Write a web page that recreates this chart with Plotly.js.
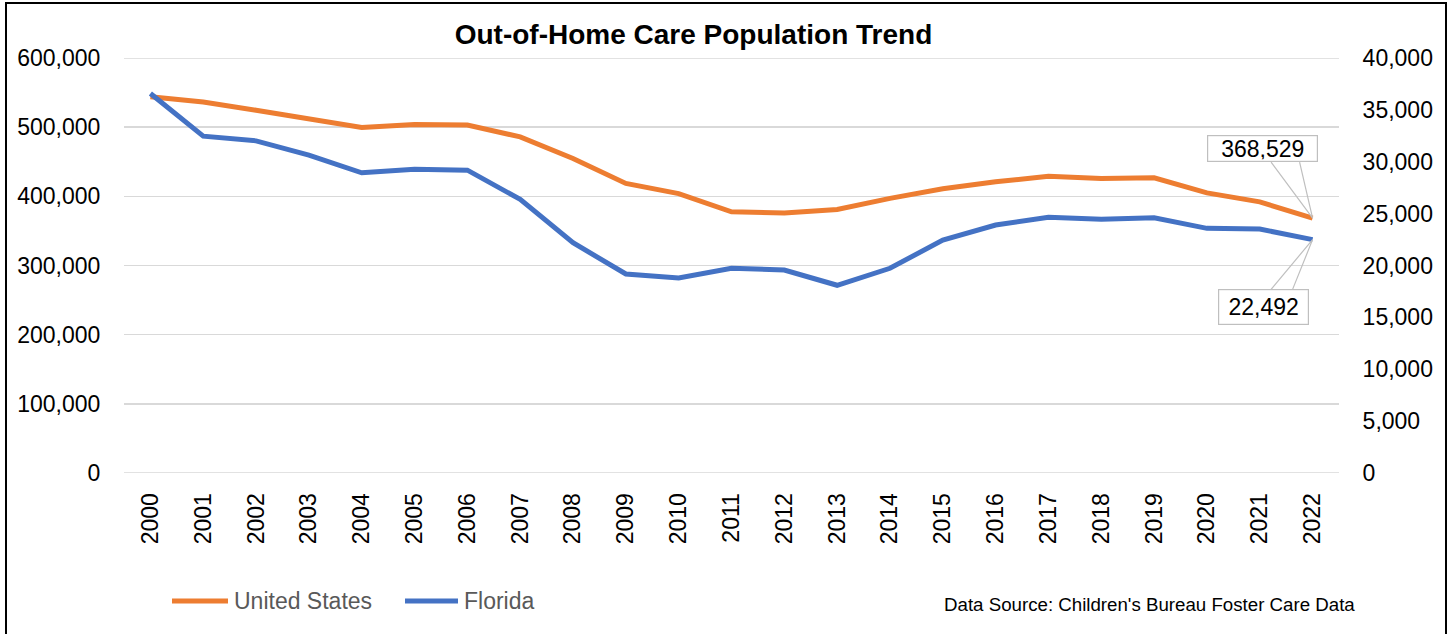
<!DOCTYPE html>
<html>
<head>
<meta charset="utf-8">
<script src="https://cdn.plot.ly/plotly-3.0.1.min.js"></script>
<style>
  html, body { margin: 0; padding: 0; background: #fff; }
  #chart { position: absolute; left: 0; top: 0; width: 1452px; height: 634px; }
  #frame { position: absolute; left: 5px; top: 2px; width: 1438px; height: 700px;
           border: 2px solid #000; pointer-events: none; }
</style>
</head>
<body>
<div id="chart"></div>
<div id="frame"></div>
<script>
// ---- Data ----
const years = ['2000','2001','2002','2003','2004','2005','2006','2007','2008','2009','2010',
               '2011','2012','2013','2014','2015','2016','2017','2018','2019','2020','2021','2022'];
const unitedStates = [544000, 536500, 524500, 512500, 499500, 504000, 503000, 486000, 454700, 418600,
                      404000, 377700, 376000, 381000, 397000, 411000, 421000, 429000, 425800, 426700,
                      405000, 392000, 368529];
const florida = [36574, 32463, 32012, 30635, 28932, 29288, 29192, 26372, 22194, 19182,
                 18797, 19730, 19567, 18094, 19730, 22455, 23899, 24640, 24447, 24601,
                 23581, 23513, 22492];
const seriesNames = ['United States', 'Florida'];
const leftTicks = [0, 100000, 200000, 300000, 400000, 500000, 600000];
const rightTicks = [0, 5000, 10000, 15000, 20000, 25000, 30000, 35000, 40000];
const chartTitle = 'Out-of-Home Care Population Trend';
const sourceNote = "Data Source: Children's Bureau Foster Care Data";

const FONT = '"Liberation Sans", Arial, Helvetica, sans-serif';
const ORANGE = '#ED7D31';
const BLUE = '#4472C4';
const colors = [ORANGE, BLUE];
const lastIdx = years.length - 1;
const fmt = v => v.toLocaleString('en-US');

const W = 1452, H = 634;
const M = { l: 124, r: 113, t: 58, b: 161 };
const PW = W - M.l - M.r, PH = H - M.t - M.b;
const px = x => (x - M.l) / PW;          // page px -> paper x
const py = y => 1 - (y - M.t) / PH;      // page px -> paper y

const traces = [
  { x: years, y: unitedStates, name: seriesNames[0], type: 'scatter', mode: 'lines',
    line: { color: ORANGE, width: 5 }, yaxis: 'y' },
  { x: years, y: florida, name: seriesNames[1], type: 'scatter', mode: 'lines',
    line: { color: BLUE, width: 5 }, yaxis: 'y2' }
];

// custom legend (line swatch + label), positioned like the original
const legendItems = [
  { x0: 172, x1: 228, tx: 232 },
  { x0: 405, x1: 458, tx: 462 }
];
const legendY = 601;
const legendShapes = legendItems.map((it, i) => ({
  type: 'line', xref: 'paper', yref: 'paper', x0: px(it.x0), x1: px(it.x1),
  y0: py(legendY), y1: py(legendY), line: { color: colors[i], width: 5 }
}));
const legendLabels = legendItems.map((it, i) => ({
  xref: 'paper', yref: 'paper', x: px(it.tx), y: py(legendY), xanchor: 'left', yanchor: 'middle',
  text: seriesNames[i], showarrow: false, font: { family: FONT, size: 23, color: '#595959' }
}));

// top and bottom gridlines (Plotly drops grid lines at the range ends)
const edgeGrid = [leftTicks[0], leftTicks[leftTicks.length - 1]].map(v => ({
  type: 'line', xref: 'paper', yref: 'y', x0: 0, x1: 1, y0: v, y1: v, layer: 'below',
  line: { color: '#d9d9d9', width: 1.5 }
}));

const layout = {
  width: W, height: H,
  margin: M,
  paper_bgcolor: '#fff', plot_bgcolor: '#fff',
  font: { family: FONT, size: 23, color: '#000' },
  title: { text: '<b>' + chartTitle + '</b>', font: { family: FONT, size: 28, color: '#000' },
           x: 0.4776, xanchor: 'center', xref: 'container', y: 0.946, yanchor: 'middle', yref: 'container' },
  showlegend: false,
  xaxis: { type: 'category', range: [-0.5, lastIdx + 0.5], tickangle: -90, showgrid: false,
           showline: false, zeroline: false,
           ticks: 'outside', ticklen: 10, tickcolor: 'rgba(0,0,0,0)',
           tickfont: { family: FONT, size: 23, color: '#000' } },
  yaxis: { range: [0, 600000], tickvals: leftTicks,
           tickformat: ',d', showgrid: true, gridcolor: '#d9d9d9',
           gridwidth: 1.5, zeroline: false, showline: false, ticks: 'outside', ticklen: 18,
           tickcolor: 'rgba(0,0,0,0)', tickfont: { family: FONT, size: 23, color: '#000' } },
  yaxis2: { range: [0, 40000], tickvals: rightTicks,
            tickformat: ',d', overlaying: 'y', side: 'right',
            showgrid: false, zeroline: false, showline: false, ticks: 'outside', ticklen: 18,
            tickcolor: 'rgba(0,0,0,0)', tickfont: { family: FONT, size: 23, color: '#000' } },
  annotations: [
    { x: lastIdx, y: unitedStates[lastIdx], xref: 'x', yref: 'y',
      text: fmt(unitedStates[lastIdx]), showarrow: true, arrowcolor: 'rgba(0,0,0,0)',
      ax: -50, ay: -69.5, bgcolor: '#fff', bordercolor: '#bfbfbf', borderwidth: 1.2, borderpad: 2,
      width: 105, height: 21, font: { family: FONT, size: 23, color: '#000' } },
    { x: lastIdx, y: florida[lastIdx], xref: 'x', yref: 'y2',
      text: fmt(florida[lastIdx]), showarrow: true, arrowcolor: 'rgba(0,0,0,0)',
      ax: -49, ay: 67.7, bgcolor: '#fff', bordercolor: '#bfbfbf', borderwidth: 1.2, borderpad: 2,
      width: 85, height: 30, font: { family: FONT, size: 23, color: '#000' } },
    { x: px(1357), y: py(604), xref: 'paper', yref: 'paper', text: sourceNote, showarrow: false,
      xanchor: 'right', yanchor: 'middle', font: { family: FONT, size: 18.7, color: '#000' } }
  ].concat(legendLabels),
  shapes: [
    { type: 'path', xref: 'x', yref: 'y', xsizemode: 'pixel', ysizemode: 'pixel',
      xanchor: lastIdx, yanchor: unitedStates[lastIdx],
      path: 'M -41.5 56 L 0 0 L -13 56', line: { color: '#bfbfbf', width: 1.2 } },
    { type: 'path', xref: 'x', yref: 'y2', xsizemode: 'pixel', ysizemode: 'pixel',
      xanchor: lastIdx, yanchor: florida[lastIdx],
      path: 'M -41.5 -49.7 L 0 0 L -20 -49.7', line: { color: '#bfbfbf', width: 1.2 } }
  ].concat(edgeGrid, legendShapes)
};

Plotly.newPlot('chart', traces, layout, { displayModeBar: false, staticPlot: true });
</script>
</body>
</html>
